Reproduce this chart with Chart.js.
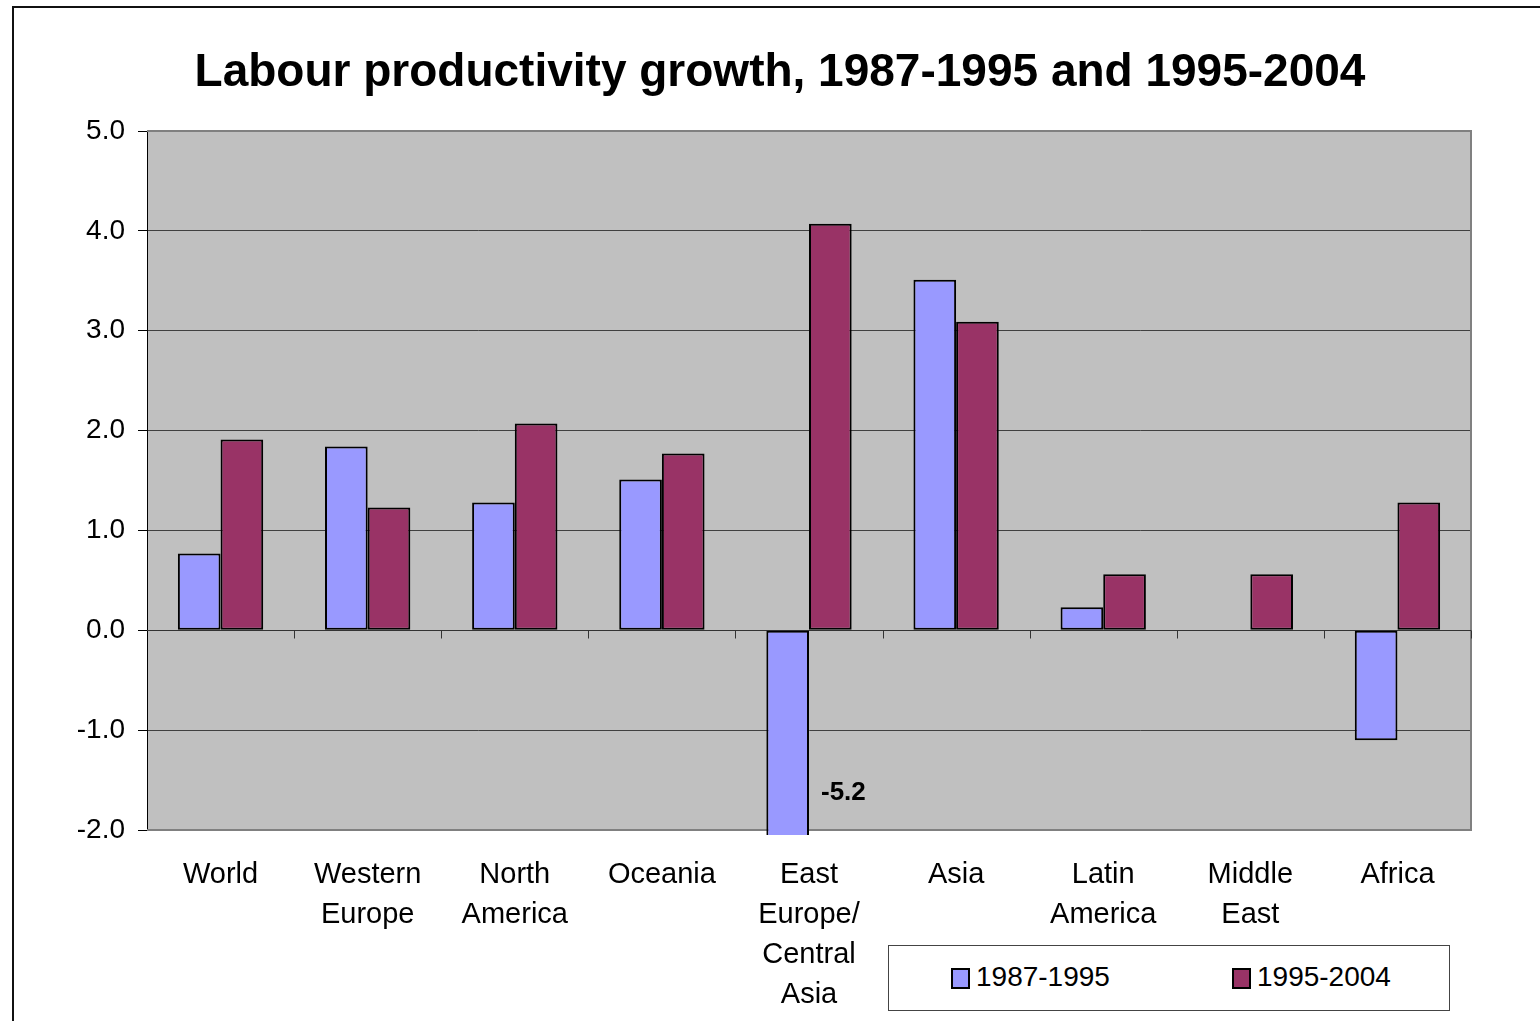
<!DOCTYPE html>
<html>
<head>
<meta charset="utf-8">
<title>Labour productivity growth</title>
<script src="https://cdn.jsdelivr.net/npm/chart.js@4.4.1/dist/chart.umd.min.js"></script>
<style>
  html, body { margin: 0; padding: 0; background: #fff; overflow: hidden; }
  #wrap { position: relative; width: 1540px; height: 1021px; }
  #legend {
    position: absolute; left: 888px; top: 945px; width: 562px; height: 66px;
    box-sizing: border-box; border: 1px solid #444; background: #fff;
    font: 28px "Liberation Sans", Arial, sans-serif; color: #000;
  }
  #legend .item { position: absolute; top: 0; height: 62px; display: flex; align-items: center; }
  #legend .swatch { width: 15px; height: 17px; border: 2px solid #000; margin-right: 6px; margin-top: 3px; }
</style>
</head>
<body>
<div id="wrap">
  <canvas id="growthChart" width="1540" height="1021"></canvas>
  <div id="legend"></div>
</div>
<script>
// average annual labour productivity growth, %
const regions = ['World', ['Western', 'Europe'], ['North', 'America'], 'Oceania',
  ['East', 'Europe/', 'Central', 'Asia'], 'Asia', ['Latin', 'America'], ['Middle', 'East'], 'Africa'];
const growth1987to1995 = [0.77, 1.84, 1.28, 1.51, -5.2, 3.51, 0.23, null, -1.10];
const growth1995to2004 = [1.91, 1.23, 2.07, 1.77, 4.07, 3.09, 0.56, 0.56, 1.28];
const seriesNames = ['1987-1995', '1995-2004'];
const yMin = -2, yMax = 5, yStep = 1;

const FONT = '"Liberation Sans", Arial, sans-serif';

// grey plot area, outer frame and title
const frame = {
  id: 'frame',
  beforeDraw(chart) {
    const { ctx, chartArea: a } = chart;
    ctx.save();
    ctx.fillStyle = '#fff';
    ctx.fillRect(0, 0, chart.width, chart.height);
    ctx.strokeStyle = '#111';
    ctx.lineWidth = 2;
    ctx.strokeRect(13, 7, chart.width + 20, chart.height + 20);
    ctx.fillStyle = '#c0c0c0';
    ctx.fillRect(a.left, a.top, a.right - a.left, a.bottom - a.top);
    ctx.fillStyle = '#000';
    ctx.font = 'bold 46px ' + FONT;
    ctx.textAlign = 'center';
    ctx.textBaseline = 'alphabetic';
    ctx.fillText('Labour productivity growth, 1987-1995 and 1995-2004', 780, 86);
    ctx.restore();
  },
  beforeDatasetsDraw(chart) {
    const { ctx, chartArea: a, scales: { x, y } } = chart;
    ctx.save();
    // plot border
    ctx.strokeStyle = '#808080';
    ctx.lineWidth = 2;
    ctx.beginPath();
    ctx.moveTo(a.left, a.top);
    ctx.lineTo(a.right, a.top);
    ctx.lineTo(a.right, a.bottom);
    ctx.lineTo(a.left, a.bottom);
    ctx.stroke();
    // category axis crosses at zero: line plus ticks between categories
    const y0 = Math.round(y.getPixelForValue(0)) + 0.5;
    ctx.strokeStyle = '#333';
    ctx.lineWidth = 1;
    ctx.beginPath();
    ctx.moveTo(a.left, y0);
    ctx.lineTo(a.right, y0);
    const n = regions.length;
    for (let i = 1; i <= n; i++) {
      const bx = Math.round((x.getPixelForValue(i - 1) + (i < n ? x.getPixelForValue(i) : 2 * x.getPixelForValue(i - 1) - x.getPixelForValue(i - 2))) / 2) + 0.5;
      ctx.moveTo(bx, y0);
      ctx.lineTo(bx, y0 + 8);
    }
    ctx.stroke();
    ctx.restore();
  },
  afterDatasetsDraw(chart) {
    // value labels for bars running off the bottom of the scale
    const { ctx, chartArea: a } = chart;
    ctx.save();
    ctx.fillStyle = '#000';
    ctx.font = 'bold 26px ' + FONT;
    ctx.textAlign = 'left';
    ctx.textBaseline = 'middle';
    chart.data.datasets.forEach((ds, di) => {
      const meta = chart.getDatasetMeta(di);
      ds.data.forEach((v, i) => {
        if (v !== null && v < yMin) {
          const el = meta.data[i];
          ctx.fillText(v.toFixed(1), el.x + el.width / 2 + 12, a.bottom - 37);
        }
      });
    });
    ctx.restore();
  }
};

const colors = ['#9999ff', '#993366'];

const chart = new Chart(document.getElementById('growthChart'), {
  type: 'bar',
  data: {
    labels: regions,
    datasets: [
      { label: seriesNames[0], data: growth1987to1995, backgroundColor: colors[0] },
      { label: seriesNames[1], data: growth1995to2004, backgroundColor: colors[1] }
    ].map(ds => Object.assign(ds, {
      borderColor: '#000',
      borderWidth: 2,
      borderSkipped: false,
      categoryPercentage: 0.58,
      barPercentage: 1,
      clip: { left: 0, top: 0, right: 0, bottom: 5 }
    }))
  },
  options: {
    responsive: false,
    animation: false,
    layout: { padding: { left: 0, top: 131, right: 69, bottom: 0 } },
    plugins: {
      legend: { display: false },
      tooltip: { enabled: false },
      title: { display: false }
    },
    scales: {
      x: {
        grid: { display: false, drawTicks: false },
        border: { display: false },
        ticks: {
          color: '#000',
          font: { family: FONT, size: 29, lineHeight: 1.38 },
          padding: 25,
          maxRotation: 0,
          autoSkip: false
        },
        afterFit(scale) { scale.height = 191; }
      },
      y: {
        min: yMin,
        max: yMax,
        grid: { color: '#404040', lineWidth: 1, drawTicks: true, tickLength: 9, tickColor: '#000' },
        border: { color: '#000', width: 1 },
        ticks: {
          stepSize: yStep,
          color: '#000',
          font: { family: FONT, size: 28 },
          padding: 13,
          callback: v => v.toFixed(1)
        },
        afterFit(scale) { scale.width = 147; }
      }
    }
  },
  plugins: [frame]
});

// boxed legend built from the datasets
const lg = document.getElementById('legend');
const itemLeft = [62, 343];
chart.data.datasets.forEach((ds, i) => {
  const it = document.createElement('div');
  it.className = 'item';
  it.style.left = itemLeft[i] + 'px';
  it.innerHTML = '<span class="swatch" style="background:' + ds.backgroundColor + '"></span><span>' + ds.label + '</span>';
  lg.appendChild(it);
});
</script>
</body>
</html>
